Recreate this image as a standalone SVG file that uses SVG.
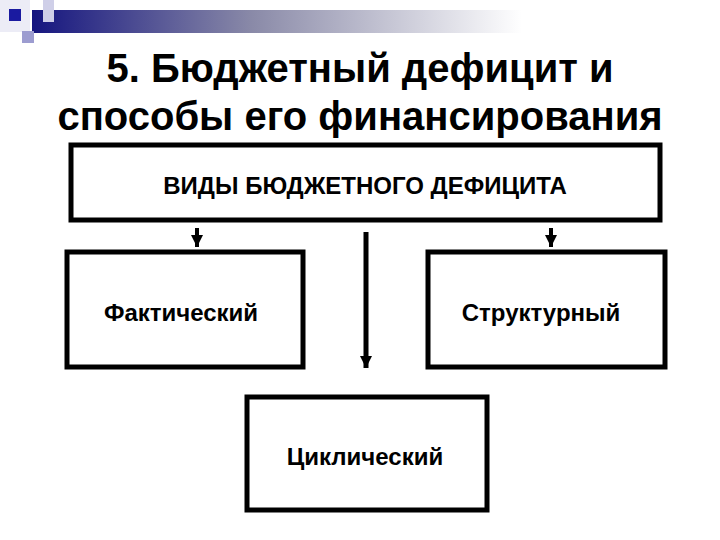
<svg xmlns="http://www.w3.org/2000/svg" width="720" height="540" viewBox="0 0 720 540">
<defs>
<linearGradient id="bar" x1="0" y1="0" x2="1" y2="0">
<stop offset="0" stop-color="#15157f"/>
<stop offset="0.45" stop-color="#8a8aa8"/>
<stop offset="1" stop-color="#ffffff"/>
</linearGradient>
<marker id="ah" viewBox="0 0 10 10" refX="10" refY="5" markerWidth="14" markerHeight="12" markerUnits="userSpaceOnUse" orient="auto">
<path d="M0,0 L10,5 L0,10 Z" fill="#000"/>
</marker>
</defs>
<style>
.box{fill:#fff;stroke:#000;stroke-width:5}
.t{font-family:"Liberation Sans",Arial,sans-serif;font-weight:bold;fill:#000;text-anchor:middle}
.lbl{font-family:"Liberation Sans",Arial,sans-serif;font-weight:bold;font-size:24px;fill:#000;text-anchor:middle}
.c{stroke:#000;fill:none}
</style>
<rect width="720" height="540" fill="#fff"/>
<g id="decor">
<rect x="0" y="0" width="30" height="32" fill="#ececf6"/>
<rect x="32" y="10" width="490" height="23" fill="url(#bar)"/>
<rect x="43" y="0" width="11" height="22" fill="#cfcfe8"/>
<rect x="22" y="31" width="12" height="12" fill="#9c9cd0"/>
<rect x="9" y="9" width="12" height="12" fill="#1a1aa0"/>
</g>
<g id="title">
<text class="t" x="360" y="82" font-size="40">5. Бюджетный дефицит и</text>
<text class="t" x="360" y="130" font-size="40">способы его финансирования</text>
</g>
<g id="n-types">
<rect class="box" x="71" y="145" width="589" height="75"/>
<text class="lbl" x="365" y="194">ВИДЫ БЮДЖЕТНОГО ДЕФИЦИТА</text>
</g>
<g id="n-actual">
<rect class="box" x="67" y="252" width="236" height="115"/>
<text class="lbl" x="181" y="321">Фактический</text>
</g>
<g id="n-structural">
<rect class="box" x="428" y="252" width="237" height="115"/>
<text class="lbl" x="541" y="321">Структурный</text>
</g>
<g id="n-cyclical">
<rect class="box" x="247" y="397" width="240" height="113"/>
<text class="lbl" x="365" y="465">Циклический</text>
</g>
<g id="connectors">
<line class="c" x1="197" y1="228" x2="197" y2="247" stroke-width="4" marker-end="url(#ah)"/>
<line class="c" x1="551" y1="228" x2="551" y2="247" stroke-width="4" marker-end="url(#ah)"/>
<line class="c" x1="366" y1="232" x2="366" y2="368" stroke-width="5" marker-end="url(#ah)"/>
</g>
</svg>
